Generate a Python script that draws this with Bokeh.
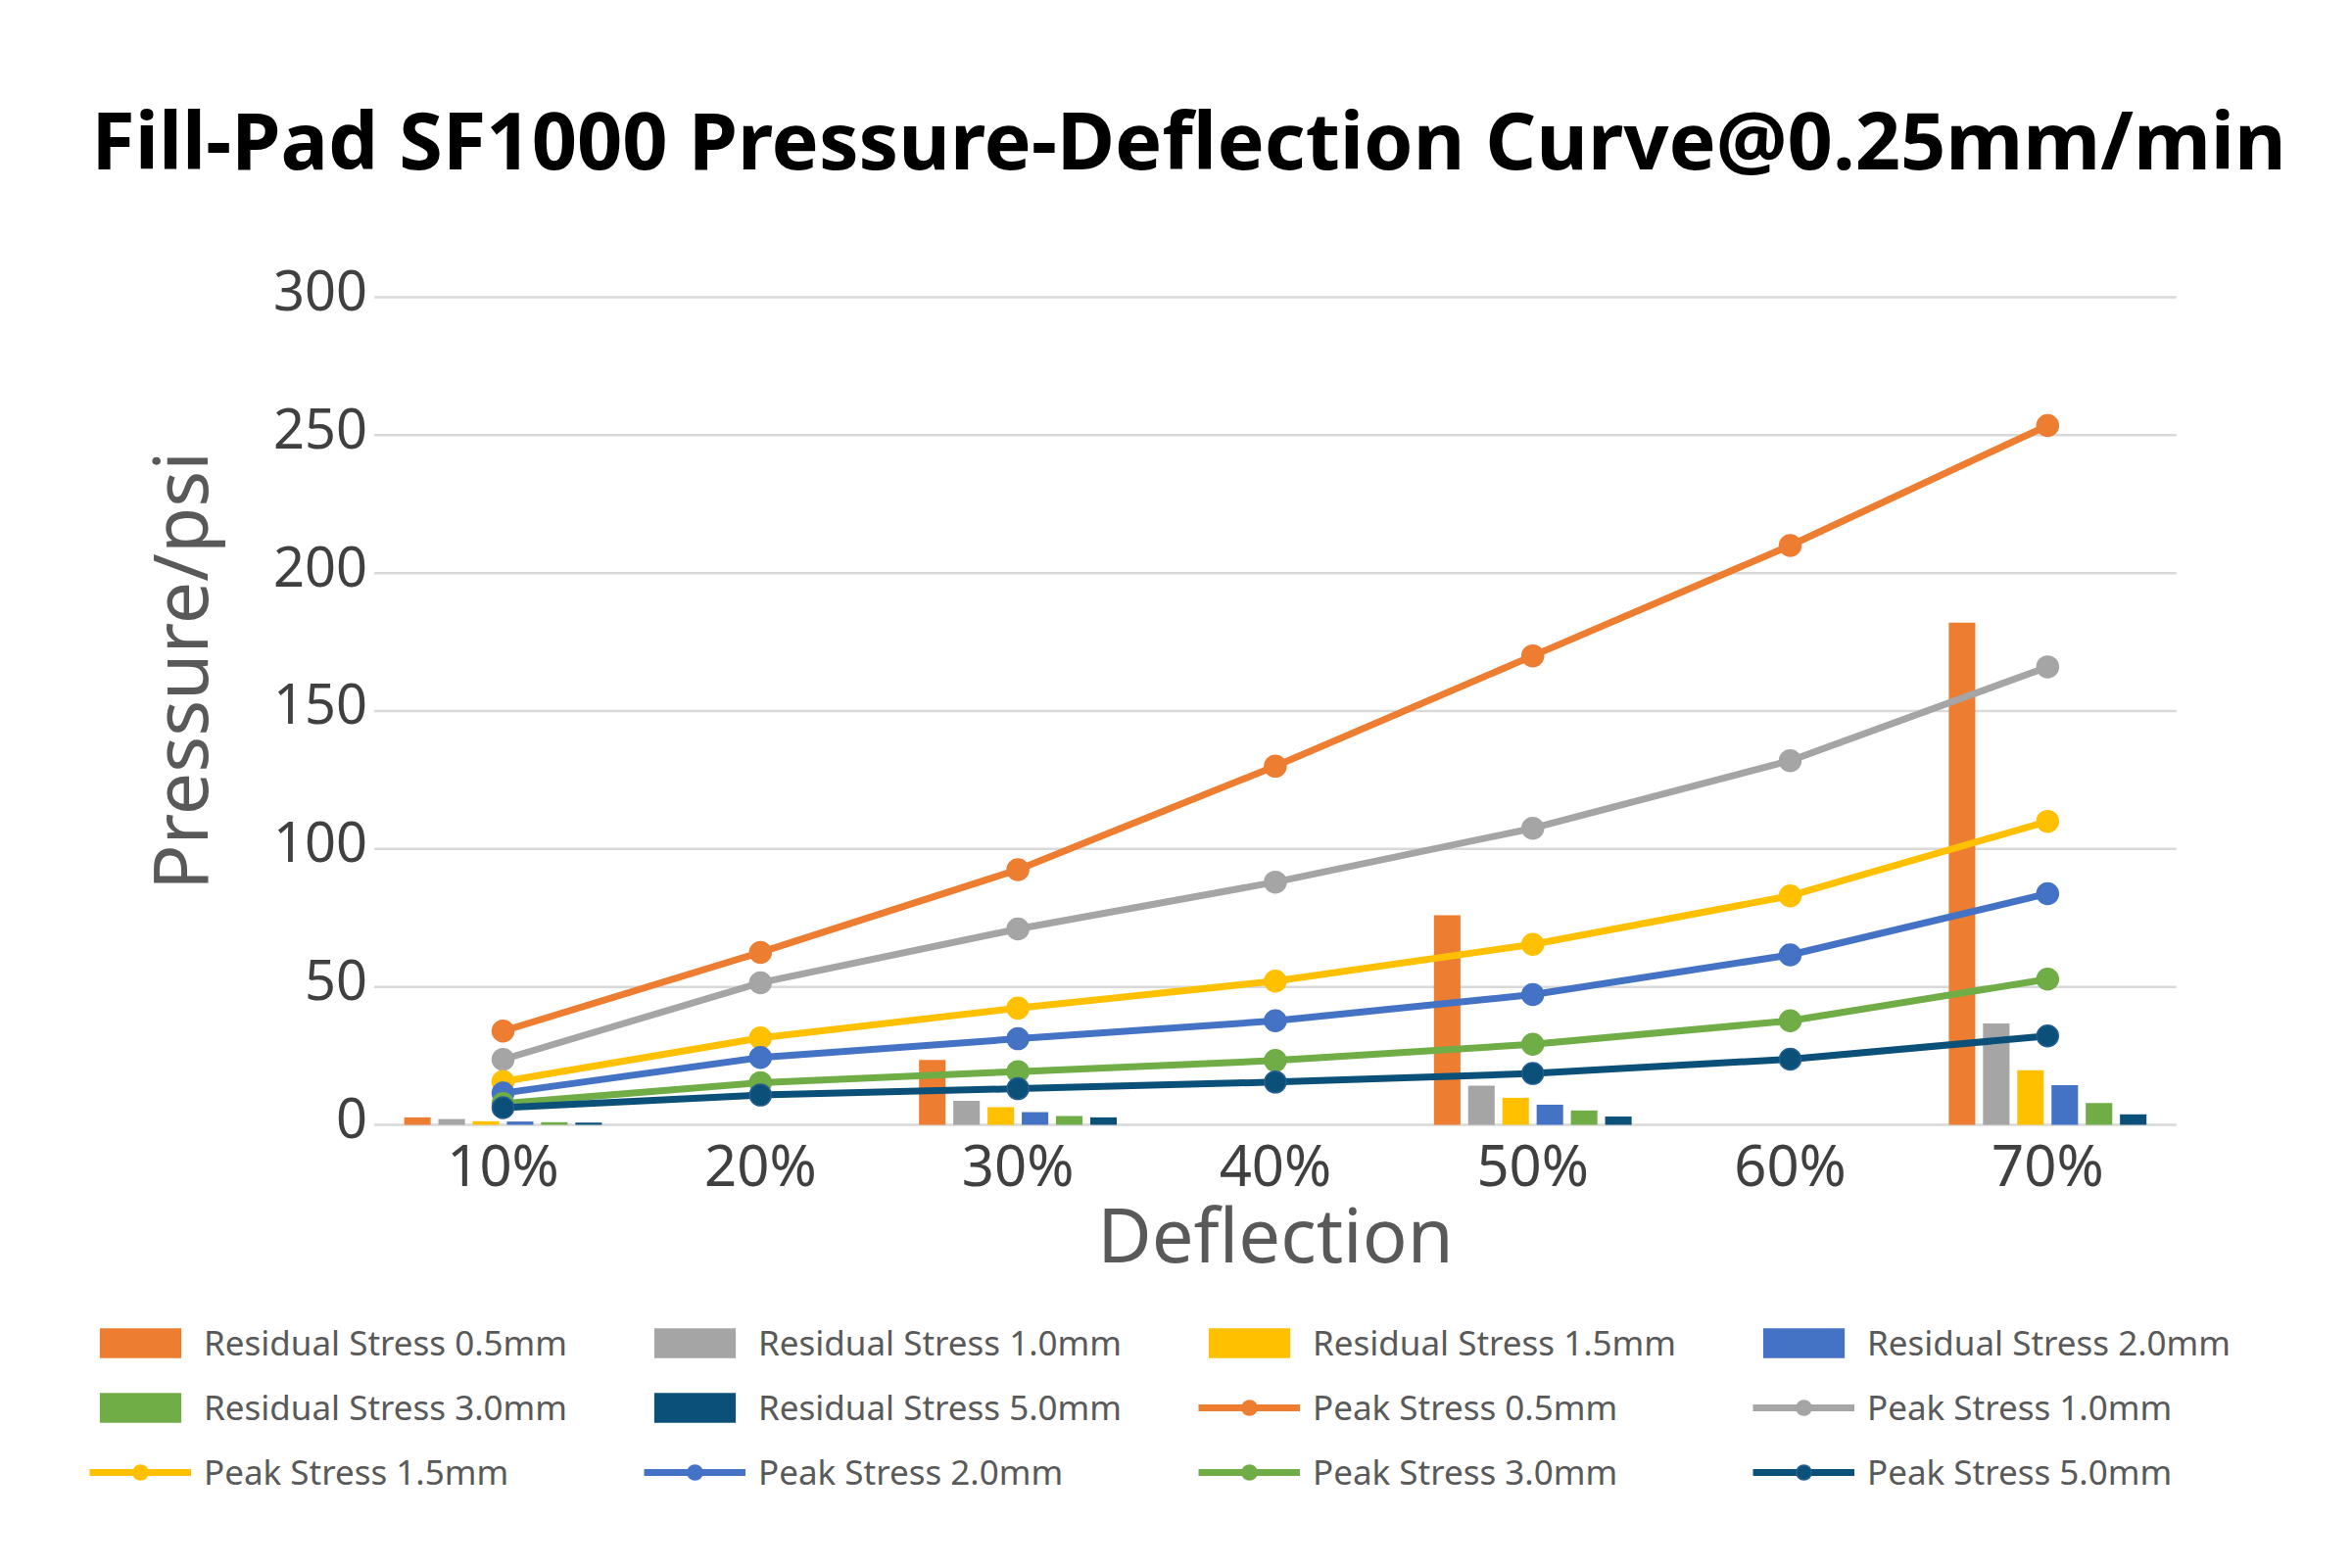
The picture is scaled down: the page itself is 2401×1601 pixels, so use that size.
import math
from bokeh.plotting import figure
from bokeh.models import (ColumnDataSource, Range1d, Legend, LegendItem, Label)
from bokeh.transform import dodge
from bokeh.core.properties import value
from bokeh.embed import file_html
from bokeh.resources import INLINE

# ---------------- data ----------------
deflection = ["10%", "20%", "30%", "40%", "50%", "60%", "70%"]
bar_deflection = ["10%", "30%", "50%", "70%"]
thickness = ["0.5mm", "1.0mm", "1.5mm", "2.0mm", "3.0mm", "5.0mm"]
y_ticks = [0, 50, 100, 150, 200, 250, 300]

peak_05 = [34.0, 62.5, 92.5, 130.0, 170.0, 210.0, 253.5]
peak_10 = [23.7, 51.5, 71.0, 88.0, 107.5, 132.0, 166.0]
peak_15 = [15.7, 31.5, 42.3, 52.1, 65.4, 83.0, 110.0]
peak_20 = [11.5, 24.4, 31.2, 37.7, 47.2, 61.6, 83.8]
peak_30 = [7.7, 15.3, 19.3, 23.3, 29.2, 37.7, 52.8]
peak_50 = [6.2, 10.8, 13.1, 15.5, 18.6, 23.8, 32.2]

res_05 = [2.7, 23.5, 76.0, 182.0]
res_10 = [2.1, 8.7, 14.2, 36.7]
res_15 = [1.3, 6.4, 9.8, 19.8]
res_20 = [1.2, 4.6, 7.3, 14.4]
res_30 = [0.95, 3.2, 5.2, 7.9]
res_50 = [0.8, 2.7, 3.0, 3.8]

peaks = [peak_05, peak_10, peak_15, peak_20, peak_30, peak_50]
residuals = [res_05, res_10, res_15, res_20, res_30, res_50]
colors = ["#ED7D31", "#A5A5A5", "#FFC000", "#4472C4", "#70AD47", "#0B5079"]
marker_lines = ["#ED7D31", "#A5A5A5", "#FFC000", "#4472C4", "#70AD47", "#255E91"]

FONT = "Noto Sans"
TITLE = "Fill-Pad SF1000 Pressure-Deflection Curve@0.25mm/min"

# category slots: each category occupies one unit, centred at i + 0.5
n = len(deflection)
x_center = [i + 0.5 for i in range(n)]
bar_x = [deflection.index(c) + 0.5 for c in bar_deflection]

# ---------------- figure (frame covers the whole canvas) ----------------
p = figure(width=2385, height=1585,
           x_range=Range1d(-1.4521, 7.6233), y_range=Range1d(-155.15, 407.57),
           x_axis_location=None, y_axis_location=None, min_border=0, title=None,
           output_backend="svg", toolbar_location=None)
p.grid.visible = False
p.outline_line_color = None
p.background_fill_color = "white"
p.border_fill_color = "white"

# horizontal grid lines (0 line doubles as the category axis line)
p.segment(x0=0, x1=n, y0=y_ticks, y1=y_ticks, line_color="#D9D9D9", line_width=2.5)

# y tick labels
p.text(x=0, y=y_ticks, text=[str(t) for t in y_ticks], x_offset=-7, y_offset=-7,
       text_align="right", text_baseline="middle", text_font=value(FONT),
       text_font_size=value("56px"), text_color="#404040")

# x tick labels
p.text(x=x_center, y=0, text=deflection, y_offset=40,
       text_align="center", text_baseline="alphabetic", text_font=value(FONT),
       text_font_size=value("58px"), text_color="#404040")

# axis titles
p.text(x=[n / 2], y=[0], text=["Deflection"], y_offset=111,
       text_align="center", text_baseline="alphabetic", text_font=value(FONT),
       text_font_size=value("76px"), text_color="#595959")
p.text(x=[0], y=[y_ticks[-1] / 2], text=["Pressure/psi"], angle=math.pi / 2,
       x_offset=-200, y_offset=-41, text_align="center", text_baseline="alphabetic",
       text_font=value(FONT), text_font_size=value("77px"), text_color="#595959")

# bars (residual stress)
bar_renderers = []
step = 0.133
for i, (vals, c) in enumerate(zip(residuals, colors)):
    src = ColumnDataSource(dict(x=bar_x, top=vals))
    r = p.vbar(x=dodge("x", (i - 2.5) * step), top="top", bottom=0,
               width=0.103, source=src, fill_color=c, line_color=None)
    bar_renderers.append(r)

# lines (peak stress)
line_renderers = []
for vals, c, mc in zip(peaks, colors, marker_lines):
    src = ColumnDataSource(dict(x=x_center, y=vals))
    ln = p.line(x="x", y="y", source=src, line_color=c, line_width=7)
    sc = p.scatter(x="x", y="y", source=src, size=22, fill_color=c,
                   line_color=mc, line_width=1.5)
    line_renderers.append((ln, sc))

# legend
items = []
for t, r in zip(thickness, bar_renderers):
    items.append(LegendItem(label="Residual Stress " + t, renderers=[r]))
for t, (ln, sc) in zip(thickness, line_renderers):
    items.append(LegendItem(label="Peak Stress " + t, renderers=[ln, sc]))

legend = Legend(items=items, orientation="horizontal", ncols=4,
                location=(91, 59),
                glyph_width=104, glyph_height=38, label_standoff=13,
                spacing=19, label_width=430,
                label_text_font=FONT, label_text_font_size="35px",
                label_text_color="#595959",
                border_line_color=None, background_fill_alpha=0,
                padding=0, margin=0)
p.add_layout(legend)

# main title
p.add_layout(Label(x=1213, y=1444, x_units="screen", y_units="screen", text=TITLE,
                   text_align="center", text_baseline="alphabetic",
                   text_font=FONT, text_font_size="81px", text_font_style="bold",
                   text_color="#000000"))

open("out.html", "w").write(file_html(p, INLINE))
